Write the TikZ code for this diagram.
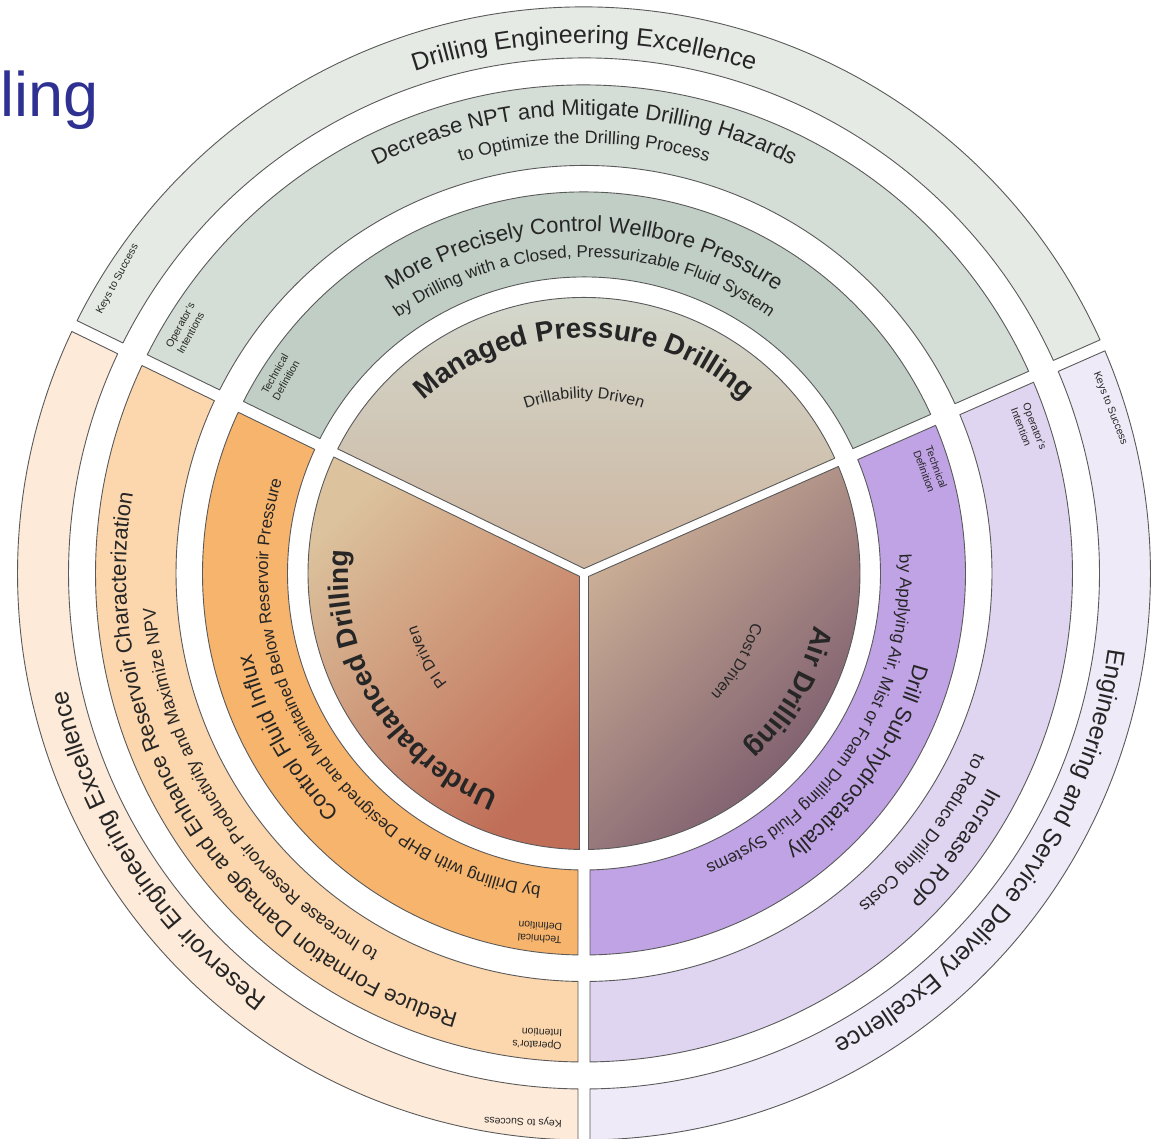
\documentclass[tikz,border=0pt]{standalone}
\usepackage{fontspec}
\setmainfont{Liberation Sans}
\usetikzlibrary{decorations.text}

% palette
\definecolor{edge}{HTML}{5A5A5A}
\definecolor{txt}{HTML}{262626}
\definecolor{titleblue}{HTML}{2E3192}
\definecolor{mpdK}{HTML}{E5EAE4}
\definecolor{mpdO}{HTML}{D4DDD6}
\definecolor{mpdT}{HTML}{C1CEC5}
\definecolor{ubdK}{HTML}{FDEAD8}
\definecolor{ubdO}{HTML}{FCD6AC}
\definecolor{ubdT}{HTML}{F7B46C}
\definecolor{airK}{HTML}{EFEAF7}
\definecolor{airO}{HTML}{E0D5F0}
\definecolor{airT}{HTML}{C0A3E5}
\definecolor{mpdTop}{HTML}{D4DDD3}
\definecolor{mpdBot}{HTML}{CDB49E}
\definecolor{ubdTop}{HTML}{DCC39E}
\definecolor{ubdMid}{HTML}{E4A065}
\definecolor{ubdBot}{HTML}{C06E57}
\definecolor{airTop}{HTML}{CDB096}
\definecolor{airMid}{HTML}{A58479}
\definecolor{airBot}{HTML}{74546A}

% boundary rays between the three disciplines
\newcommand\rayA{154.1}
\newcommand\rayB{23.75}
\newcommand\gapw{6}

% fonts for the curved texts
\newcommand\txtOuter{\fontsize{25}{30}\selectfont}
\newcommand\txtMain{\fontsize{22}{26}\selectfont}
\newcommand\txtSecond{\fontsize{18}{22}\selectfont}
\newcommand\txtThird{\fontsize{17}{20}\selectfont}
\newcommand\txtCore{\fontsize{28}{32}\selectfont\bfseries}
\newcommand\txtDriven{\fontsize{16}{19}\selectfont}

% annular segment between rays #1 < #2, radii #3 < #4, fill #5
\newcommand\ringseg[5]{%
  \draw[seg, fill=#5] ({#1+asin(\gapw/#3)}:#3) -- ({#1+asin(\gapw/#4)}:#4)
    arc[start angle={#1+asin(\gapw/#4)}, end angle={#2-asin(\gapw/#4)}, radius=#4]
    -- ({#2-asin(\gapw/#3)}:#3)
    arc[start angle={#2-asin(\gapw/#3)}, end angle={#1+asin(\gapw/#3)}, radius=#3] -- cycle;}

% inner pie slice between rays #1 < #2, style #3
\newcommand\innerwedge[3]{%
  \draw[seg, #3] ({(#1+#2)/2}:{4.5/sin((#2-#1)/2)}) -- ({#1+asin(4.5/276)}:276)
    arc[start angle={#1+asin(4.5/276)}, end angle={#2-asin(4.5/276)}, radius=276] -- cycle;}

% text read clockwise, centred on angle #1, path half span #2, baseline radius #3
\newcommand\arctext[5]{%
  \path[decorate, decoration={text along path, text align=center, text color=txt,
        text={|#4|#5}}]
    ({#1+#2}:#3) arc[start angle={#1+#2}, end angle={#1-#2}, radius=#3];}

% small caption at the leading end of a segment (ray #1, radius #2)
\newcommand\seglabel[4]{%
  \node[lab, rotate={#1-asin(22/#2)-90}] (#4) at ({#1-asin(22/#2)}:#2) {#3};}

\begin{document}
\begin{tikzpicture}[x=1pt, y=1pt, line join=round,
  seg/.style={draw=edge, line width=0.9pt},
  lab/.style={font=\fontsize{10.5}{12.8}\selectfont, text=txt, align=left,
              inner sep=0pt, anchor=west}]

\useasboundingbox (-584,-565.5) rectangle (572,573.5);
\fill[white] (-584,-565.5) rectangle (572,573.5);

% title fragment
\node[font=\fontsize{63}{70}\selectfont, text=titleblue, anchor=base west,
      inner sep=0pt] (title) at (-584,456.5) {ling};

% Managed Pressure Drilling rings
\ringseg{\rayB}{\rayA}{296.5}{381.5}{mpdT}
\ringseg{\rayB}{\rayA}{408}{488.5}{mpdO}
\ringseg{\rayB}{\rayA}{515.5}{566.5}{mpdK}
% Underbalanced Drilling rings
\ringseg{\rayA}{270}{296.5}{381.5}{ubdT}
\ringseg{\rayA}{270}{408}{488.5}{ubdO}
\ringseg{\rayA}{270}{515.5}{566.5}{ubdK}
% Air Drilling rings
\ringseg{-90}{\rayB}{296.5}{381.5}{airT}
\ringseg{-90}{\rayB}{408}{488.5}{airO}
\ringseg{-90}{\rayB}{515.5}{566.5}{airK}

% core pie
\innerwedge{\rayB}{\rayA}{top color=mpdTop, bottom color=mpdBot}
\innerwedge{\rayA}{270}{top color=ubdTop, middle color=ubdMid, bottom color=ubdBot, shading angle=45}
\innerwedge{-90}{\rayB}{top color=airTop, middle color=airMid, bottom color=airBot, shading angle=45}

% Managed Pressure Drilling texts
\arctext{90}{60}{530}{\txtOuter}{Drilling Engineering Excellence}
\arctext{90}{60}{458}{\txtMain}{Decrease NPT and Mitigate Drilling Hazards}
\arctext{90}{60}{430}{\txtSecond}{to Optimize the Drilling Process}
\arctext{90}{60}{342}{\txtMain}{More Precisely Control Wellbore Pressure}
\arctext{90}{60}{316}{\txtThird}{by Drilling with a Closed{,} Pressurizable Fluid System}
\arctext{90}{60}{236}{\txtCore}{Managed Pressure Drilling}
\arctext{90}{40}{175}{\txtDriven}{Drillability Driven}

% Underbalanced Drilling texts
\arctext{213}{55}{530}{\txtOuter}{Reservoir Engineering Excellence}
\arctext{212}{55}{458}{\txtMain}{Reduce Formation Damage and Enhance Reservoir Characterization}
\arctext{213}{55}{430}{\txtSecond}{to Increase Reservoir Productivity and Maximize NPV}
\arctext{209}{55}{342}{\txtMain}{Control Fluid Influx}
\arctext{212.5}{55}{316}{\txtThird}{by Drilling with BHP Designed and Maintained Below Reservoir Pressure}
\arctext{211.5}{55}{236}{\txtCore}{Underbalanced Drilling}
\arctext{208}{40}{175}{\txtDriven}{PI Driven}

% Air Drilling texts
\arctext{-35}{55}{530}{\txtOuter}{Engineering and Service Delivery Excellence}
\arctext{-36.5}{50}{458}{\txtMain}{Increase ROP}
\arctext{-37.5}{50}{430}{\txtSecond}{to Reduce Drilling Costs}
\arctext{-34.5}{50}{342}{\txtMain}{Drill Sub-hydrostatically}
\arctext{-32}{50}{316}{\txtThird}{by Applying Air{,} Mist or Foam Drilling Fluid Systems}
\arctext{-30}{50}{236}{\txtCore}{Air Drilling}
\arctext{-30}{40}{175}{\txtDriven}{Cost Driven}

% captions at the leading end of each segment
\seglabel{\rayA}{550}{Keys to Success}{mpdKey}
\seglabel{\rayA}{467}{Operator's\\Intentions}{mpdOp}
\seglabel{\rayA}{361}{Technical\\Definition}{mpdTech}
\seglabel{270}{550}{Keys to Success}{ubdKey}
\seglabel{270}{467}{Operator's\\Intention}{ubdOp}
\seglabel{270}{361}{Technical\\Definition}{ubdTech}
\seglabel{\rayB}{550}{Keys to Success}{airKey}
\seglabel{\rayB}{467}{Operator's\\Intention}{airOp}
\seglabel{\rayB}{361}{Technical\\Definition}{airTech}

\end{tikzpicture}
\end{document}
